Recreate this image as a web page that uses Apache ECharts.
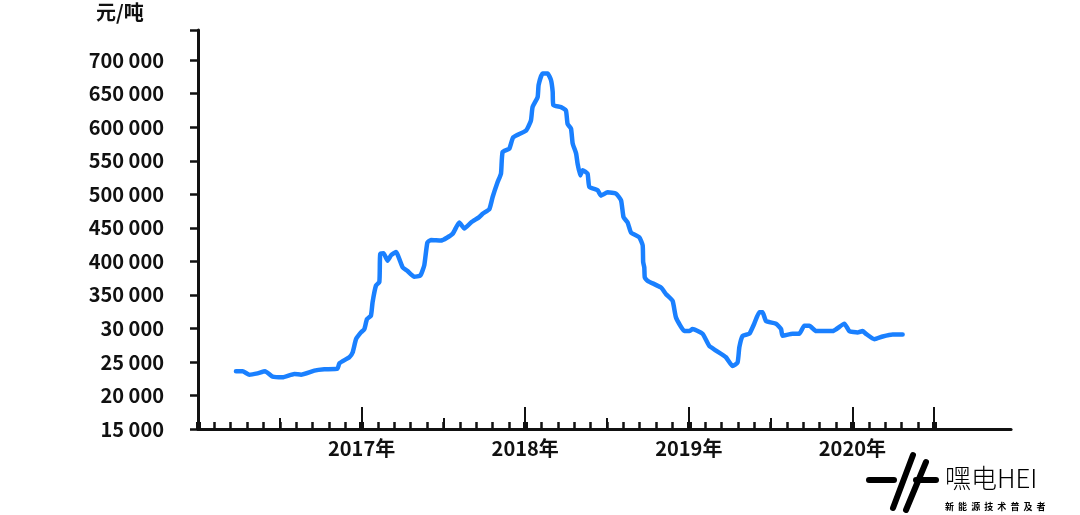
<!DOCTYPE html>
<html><head><meta charset="utf-8">
<script src="https://cdn.jsdelivr.net/npm/echarts@6/dist/echarts.min.js"></script>
<style>html,body{margin:0;padding:0;background:#fff}#c{width:1080px;height:515px}</style>
</head><body><div id="c"></div>
<script>
// decimal years
const years = [2016.232,2016.273,2016.314,2016.364,2016.410,2016.456,2016.517,2016.589,2016.630,2016.711,2016.772,2016.853,2016.864,2016.925,2016.945,2016.966,2016.996,2017.017,2017.033,2017.057,2017.067,2017.088,2017.108,2017.111,2017.114,2017.134,2017.159,2017.180,2017.210,2017.251,2017.279,2017.322,2017.359,2017.383,2017.402,2017.424,2017.485,2017.556,2017.597,2017.628,2017.669,2017.719,2017.740,2017.781,2017.801,2017.831,2017.852,2017.862,2017.903,2017.927,2018.005,2018.035,2018.045,2018.076,2018.082,2018.106,2018.137,2018.158,2018.168,2018.172,2018.219,2018.249,2018.259,2018.280,2018.290,2018.311,2018.320,2018.337,2018.351,2018.381,2018.392,2018.443,2018.463,2018.504,2018.555,2018.586,2018.601,2018.626,2018.647,2018.697,2018.718,2018.721,2018.728,2018.731,2018.748,2018.830,2018.861,2018.901,2018.922,2018.973,2019.003,2019.023,2019.084,2019.125,2019.166,2019.227,2019.268,2019.298,2019.309,2019.329,2019.370,2019.400,2019.431,2019.451,2019.472,2019.533,2019.564,2019.573,2019.635,2019.675,2019.706,2019.737,2019.778,2019.879,2019.951,2019.981,2020.032,2020.062,2020.083,2020.134,2020.185,2020.246,2020.307];
// price, 元/吨
const prices = [236000,236000,231000,233000,236000,228000,227000,232000,231000,237000,239000,240000,248000,257000,264000,284000,294000,299000,314000,319000,339000,364000,369000,386000,411000,412000,401000,409000,414000,391000,386000,377000,379000,394000,428000,432000,431000,441000,458000,449000,458000,466000,471000,478000,496000,518000,531000,563000,568000,585000,595000,610000,630000,645000,663000,680000,680000,670000,653000,633000,630000,625000,605000,598000,576000,561000,546000,528000,536000,531000,511000,506000,498000,503000,501000,491000,466000,458000,443000,436000,424000,399000,391000,376000,371000,361000,351000,341000,316000,296000,296000,299000,292000,274000,267000,257000,244000,249000,272000,289000,292000,307000,324000,324000,311000,307000,299000,289000,292000,292000,304000,304000,296000,296000,307000,296000,294000,296000,292000,284000,288000,291000,291000];
const yTickLabels = ['15 000','20 000','25 000','30 000','350 000','400 000','450 000','500 000','550 000','600 000','650 000','700 000'];
const yearLabels = ['2017年','2018年','2019年','2020年'];
const unitLabel = '元/吨';

const yMin = 150000, yStep = 50000;
const chart = echarts.init(document.getElementById('c'));
const black = '#111';
const FONT = '"Noto Sans CJK SC","Noto Sans",sans-serif';
const L = 198, T = 30, H = 399, PX_PER_YEAR = 163.6;
function tickAxis(interval, len, width) {
  return {type:'value', gridIndex:1, position:'bottom', offset:0, min:2016, max:2020.5, interval:interval,
    axisLine:{show:false}, splitLine:{show:false}, axisLabel:{show:false},
    axisTick:{show:true, inside:true, length:len, lineStyle:{color:black, width:width}}};
}
chart.setOption({
  animation:false,
  grid:[
    {left:L, top:T, width:PX_PER_YEAR*4.97, height:H},
    {left:L, top:T, width:PX_PER_YEAR*4.5, height:H}
  ],
  xAxis:[
    {type:'value', gridIndex:0, position:'bottom', min:2016, max:2020.97, interval:1,
      axisLine:{show:true, lineStyle:{color:black, width:3}},
      axisTick:{show:false}, splitLine:{show:false},
      axisLabel:{margin:9, color:black, fontSize:20, fontWeight:'bold', fontFamily:FONT,
        formatter:function(v){ const i=Math.round(v)-2017; return (i>=0 && i<yearLabels.length && Math.abs(v-Math.round(v))<1e-6)? yearLabels[i] : ''; }}},
    tickAxis(0.1, 7, 2.5),
    tickAxis(0.5, 11, 2),
    tickAxis(1, 22, 2),
    tickAxis(1, 7, 5)
  ],
  yAxis:[
    {type:'value', gridIndex:0, min:yMin, max:745000, interval:yStep,
      axisLine:{show:true, lineStyle:{color:black, width:3}},
      axisTick:{show:true, inside:false, length:8, lineStyle:{color:black, width:2.5}},
      splitLine:{show:false},
      axisLabel:{margin:34, color:black, fontSize:20, fontWeight:'bold', fontFamily:FONT,
        formatter:function(v){ const i=Math.round((v-yMin)/yStep); return yTickLabels[i]||''; }}},
    {type:'value', gridIndex:1, min:yMin, max:745000, show:false}
  ],
  series:[{
    type:'line', xAxisIndex:0, yAxisIndex:0, showSymbol:false, smooth:0.15,
    data: years.map((y,i)=>[y, prices[i]]),
    lineStyle:{color:'#1a80ff', width:4.5, cap:'round', join:'round'}
  }],
  graphic:[
    {type:'text', left:96, top:2, style:{text:unitLabel, fill:black, font:'bold 20px '+FONT}},
    {type:'group', left:866, top:452, children:[
      {type:'line', shape:{x1:3, y1:28, x2:28, y2:28}, style:{stroke:'#000', lineWidth:6, lineCap:'round'}},
      {type:'line', shape:{x1:27, y1:56, x2:47, y2:3}, style:{stroke:'#000', lineWidth:6, lineCap:'round'}},
      {type:'line', shape:{x1:40, y1:58, x2:60, y2:10}, style:{stroke:'#000', lineWidth:6, lineCap:'round'}},
      {type:'line', shape:{x1:50, y1:28, x2:70, y2:28}, style:{stroke:'#000', lineWidth:6, lineCap:'round'}}
    ]},
    {type:'text', left:945, top:465, style:{text:'嘿电HEI', fill:'#000', font:'300 26px '+FONT}},
    {type:'text', left:945, top:502, style:{text:'新  能  源  技  术  普  及  者', fill:'#000', font:'bold 9px '+FONT}}
  ]
});
</script></body></html>
